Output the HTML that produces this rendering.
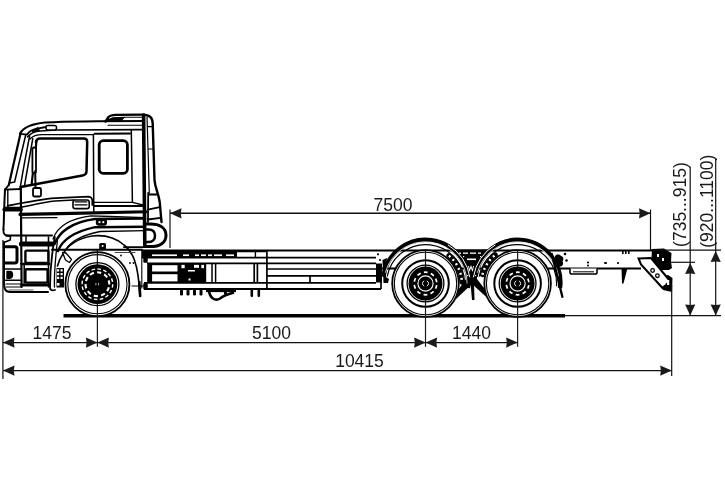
<!DOCTYPE html>
<html><head><meta charset="utf-8">
<style>
html,body{margin:0;padding:0;background:#fff;}
body{width:725px;height:483px;overflow:hidden;}
svg{display:block;will-change:transform;}
text{font-family:"Liberation Sans",sans-serif;font-size:17.5px;fill:#1a1a1a;}
</style></head><body>
<svg width="725" height="483" viewBox="0 0 725 483">
<defs>
<path id="arrL" d="M0 0 L11.5 -5.1 L10.8 0 L11.5 5.1 Z"/>
<path id="arrR" d="M0 0 L-11.5 -5.1 L-10.8 0 L-11.5 5.1 Z"/>
<path id="arrU" d="M0 0 L-5.1 11 L0 10.4 L5.1 11 Z"/>
<path id="arrD" d="M0 0 L-5.1 -11 L0 -10.4 L5.1 -11 Z"/>
<g id="tireF">
  <circle r="32" stroke="#000" stroke-width="1.8" fill="#fff"/>
  <circle r="29.6" stroke="#000" stroke-width="1.1" fill="none"/>
</g>
<g id="hubF">
  <circle r="21.5" stroke="#000" stroke-width="1.3" fill="none"/>
  <circle r="19.9" fill="#000" stroke="none"/>
  <circle r="15.3" stroke="#fff" stroke-width="1.4" fill="none" stroke-dasharray="3.6 2.37"/>
  <circle r="11.9" stroke="#fff" stroke-width="2.1" fill="none" stroke-dasharray="4.2 3.27" transform="rotate(15)"/>
  <path d="M-1.5 -1.2 v2.4 M1.2 -1.2 v2.4" stroke="#fff" stroke-width="0.7"/>
</g>
<g id="tireR">
  <circle r="33.3" stroke="#000" stroke-width="1.8" fill="#fff"/>
  <circle r="31.2" stroke="#000" stroke-width="1.1" fill="none"/>
  <circle r="23.3" stroke="#000" stroke-width="2" fill="none"/>
</g>
<g id="hubR">
  <circle r="18.4" stroke="#000" stroke-width="1.3" fill="none"/>
  <circle r="17" fill="#000" stroke="none"/>
  <circle r="11.3" stroke="#fff" stroke-width="1.7" fill="none" stroke-dasharray="3.8 3.3" transform="rotate(8)"/>
  <circle r="7.6" stroke="#fff" stroke-width="1.1" fill="none"/>
  <path d="M-1.3 -2.6 A2.8 2.8 0 0 0 -1.3 2.6 M1.3 -2.6 A2.8 2.8 0 0 1 1.3 2.6" stroke="#fff" stroke-width="0.9" fill="none"/>
</g>
</defs>

<!-- ground -->
<line x1="63.5" y1="315.7" x2="565" y2="315.7" stroke="#000" stroke-width="3.4"/>

<!-- ===== FRAME ===== -->
<g fill="#000" stroke="none">
  <rect x="142" y="251" width="95" height="6.5"/>
  <rect x="147.2" y="263.3" width="59" height="19.3"/>
  <rect x="143.3" y="255.5" width="4.4" height="7.2" rx="1"/>
  <rect x="143.3" y="283" width="4.4" height="6.5" rx="1"/>
</g>
<g fill="#fff" stroke="none">
  <rect x="152" y="254.4" width="25" height="1.7"/>
  <rect x="183" y="254.4" width="6" height="1.7"/>
  <rect x="195" y="254.4" width="4" height="1.7"/>
  <rect x="201" y="254.4" width="5" height="1.7"/>
  <rect x="208" y="254.4" width="4" height="1.7"/>
  <rect x="214" y="254.4" width="8" height="1.7"/>
  <rect x="226" y="254.4" width="8" height="1.7"/>
  <rect x="152.1" y="265.2" width="25.4" height="6.3"/>
  <rect x="152.1" y="274.2" width="25.4" height="7.2"/>
  <rect x="181.4" y="264.8" width="3.3" height="3.4"/>
  <rect x="194" y="264.8" width="5" height="3"/>
  <rect x="201.3" y="264.8" width="2.7" height="3.4"/>
  <rect x="188" y="270" width="7" height="1.5"/>
  <rect x="188.5" y="278.5" width="2" height="2"/>
</g>
<g id="frame" stroke="#000" fill="none" stroke-width="1.7">
  <line x1="142" y1="250.4" x2="655" y2="250.4" stroke-width="2"/>
  <line x1="376" y1="268.4" x2="641" y2="268.4" stroke-width="2"/>
  <line x1="142" y1="257.6" x2="376" y2="257.6"/>
  <line x1="147" y1="263.3" x2="376" y2="263.3" stroke-width="1.8"/>
  <line x1="267" y1="269" x2="376" y2="269"/>
  <line x1="267" y1="275.8" x2="376" y2="275.8"/>
  <line x1="144" y1="282.8" x2="376" y2="282.8" stroke-width="1.8"/>
  <line x1="144" y1="289" x2="381" y2="289" stroke-width="1.8"/>
  <line x1="310" y1="276" x2="310" y2="282.5"/>
  <line x1="212" y1="263.3" x2="212" y2="282.8" stroke-width="1.5"/>
  <line x1="215.6" y1="263.3" x2="215.6" y2="282.8" stroke-width="1.5"/>
  <line x1="254.2" y1="263.3" x2="254.2" y2="282.8"/>
  <line x1="257.4" y1="263.3" x2="257.4" y2="282.8"/>
  <line x1="266.9" y1="251" x2="266.9" y2="289"/>
  <path d="M237 251.5 L266.9 251.5 M255.4 251.5 L255.4 257.5" stroke-width="1.4"/>
  <line x1="381" y1="282" x2="381" y2="289"/>
</g>
<g fill="#000" stroke="none">
  <rect x="180" y="289.5" width="3" height="6" rx="1.3"/>
  <rect x="186.5" y="289.5" width="3" height="6" rx="1.3"/>
  <rect x="193" y="289.5" width="3" height="6" rx="1.3"/>
  <rect x="199.5" y="289.5" width="3" height="6" rx="1.3"/>
  <rect x="206" y="289.5" width="30" height="2.6"/>
  <path d="M209 291 C210 298 215 301.5 220 298.5 C224 295.5 228 294 234 292.5" fill="none" stroke="#000" stroke-width="2.6"/>
  <rect x="224" y="291" width="3" height="4" rx="1"/>
  <rect x="250.5" y="289.5" width="2.6" height="7.5" rx="1.2"/>
  <rect x="257.5" y="289.5" width="2.6" height="7.5" rx="1.2"/>
</g>

<!-- ===== FENDERS (rear) ===== -->
<g fill="#000" stroke="none">
  <!-- black frame band between axles -->
  <path d="M452 249.5 L492 249.5 C484 256 478 266 476.5 282 L467 282 C465 266 460 256 452 249.5 Z"/>
  <path d="M466 279 L477 279 L491 297 L488.5 299 L472 284 L456 299 L453 297 Z"/>
  <path d="M470.5 283 L474 283 L474.5 300 L472 300 Z"/>
  <!-- left spring bracket -->
  <path d="M376 263.5 L382 263.5 L382 282.5 L376 282.5 Z"/>
  <path d="M382.5 260 L387 258 L385.5 270 L386 277 L389 279 L388 283 L383.5 283 Z"/>
  <circle cx="378" cy="254.3" r="1.1"/><circle cx="380" cy="260" r="1.1"/>
  <!-- right bracket behind fender 2 -->
  <path d="M555 256.5 C556 254 559.5 254 561 256 C563.5 256.5 564 259.5 562.5 261.5 C564 263.5 562.5 267 559.5 266.5 C557 268 554.5 266 555.5 263.5 C553.5 261.5 553.5 258 555 256.5 Z"/>
</g>
<g stroke="#000" fill="none" stroke-linecap="round">
  <path d="M448.9 255.7A36.3 36.3 0 0 1 461.9 282.2" stroke-width="5"/>
  <path d="M482.4 274.7A36.3 36.3 0 0 1 495.3 254.9" stroke-width="5"/>
</g>
<g stroke="#fff" fill="none" stroke-width="2.4" stroke-dasharray="2 3.2">
  <path d="M448.9 255.7A36.3 36.3 0 0 1 461.9 282.2"/>
  <path d="M482.4 274.7A36.3 36.3 0 0 1 495.3 254.9"/>
</g>
<g stroke="#000" fill="none">
  <path d="M383.4 276.8A42.6 42.6 0 0 1 467.9 288.0" stroke-width="4.4"/>
  <path d="M387.2 276.7A39 39 0 0 1 464.5 286.2" stroke-width="1.2"/>
  <path d="M475.5 276.8A42.6 42.6 0 0 1 560.0 288.0" stroke-width="4.4"/>
  <path d="M479.2 276.7A39 39 0 0 1 556.5 286.2" stroke-width="1.2"/>
  <path d="M385.3 272.7A41.6 41.6 0 0 1 467.1 283.5" stroke="#fff" stroke-width="0.8"/>
  <path d="M477.4 272.7A41.6 41.6 0 0 1 558.6 276.3" stroke="#fff" stroke-width="0.8"/>
  <path d="M551.5 253 L562.6 297.8" stroke-width="2.3"/>
</g>
<g stroke="#fff" fill="none" stroke-width="1">
  <path d="M447.9 244.9A44.6 44.6 0 0 1 469.8 277.3"/>
  <path d="M473.4 277.3A44.6 44.6 0 0 1 495.3 244.9"/>
</g>
<g fill="#fff" stroke="none">
  <rect x="459" y="252.5" width="2" height="1.3"/><rect x="463" y="252.5" width="5" height="1.3"/><rect x="470" y="252.5" width="6" height="1.3"/><rect x="478" y="252.5" width="3" height="1.3"/>
  <rect x="467" y="258.5" width="9" height="1.6"/>
  <rect x="463" y="256" width="1.2" height="1.2"/><rect x="480" y="256" width="1.2" height="1.2"/>
  <path d="M468 266 L469.5 272 L471 268 L472.5 272 L474 266 L473 266 L472.5 269 L471 265 L469.5 269 L469 266 Z"/>
  <rect x="467" y="275" width="1.2" height="1.2"/><rect x="475" y="275" width="1.2" height="1.2"/>
</g>
<!-- rear overhang -->
<g stroke="#000" fill="none" stroke-width="1.6">
  <path d="M570 268.5 L570 272.5 Q570 274 572 274 L595 274 Q597 274 597 272.5 L597 268.5" fill="#fff"/>
  <path d="M573 271.8 L594 271.8" stroke-width="1"/>
</g>
<g fill="#000" stroke="none">
  <path d="M621.5 268 L627.5 268 L623.5 283.5 L622 283.5 Z"/>
  <circle cx="565" cy="254" r="1.3"/><circle cx="566.5" cy="260.5" r="1.3"/>
  <circle cx="588" cy="262.5" r="1.1"/><circle cx="606" cy="263" r="1.1"/>
  <circle cx="588" cy="265.6" r="1"/>
  <rect x="622" y="251" width="1.6" height="3"/><rect x="625" y="251" width="1.6" height="3"/><rect x="628" y="251" width="1.6" height="3"/>
  <circle cx="605" cy="263" r="1"/>
  <circle cx="618" cy="263" r="1.1"/>
  <!-- hook blob -->
  <path d="M652 249 L664 248.5 L668 251 L671.5 253 L671 262 L672 268 L669 270 L660 270 L655 266 L651.5 258 Z"/>
  <path d="M660 277 L668 275 L672.5 278 L672 292 L663 290 Z"/>
</g>
<g stroke="#000" stroke-width="2" fill="#fff">
  <path d="M638.5 258.5 L651 258 L670 281 L662.5 288 L641 264.5 Z"/>
</g>
<g fill="none" stroke="#000" stroke-width="1.3">
  <circle cx="652.6" cy="270.5" r="1.8"/><circle cx="657.4" cy="275.7" r="1.8"/>
</g>
<g fill="#fff" stroke="none">
  <rect x="663" y="280" width="2.2" height="5"/><rect x="667" y="280" width="2.2" height="5"/>
  <rect x="657" y="254" width="2" height="3"/><rect x="662" y="258" width="2" height="3"/>
</g>

<!-- wheels -->
<use href="#tireF" x="97.4" y="284.2"/>
<use href="#tireR" x="425.5" y="283.5"/>
<use href="#tireR" x="517.6" y="283.5"/>
<g stroke="#1a1a1a" stroke-width="1.2">
  <line x1="97.4" y1="249" x2="97.4" y2="346.8"/>
  <line x1="425.5" y1="250" x2="425.5" y2="346.8"/>
  <line x1="517.6" y1="250" x2="517.6" y2="346.8"/>
</g>
<use href="#hubF" x="97.4" y="284.2"/>
<use href="#hubR" x="425.5" y="283.5"/>
<use href="#hubR" x="517.6" y="283.5"/>

<!-- ===== CAB ===== -->
<g id="cab" stroke="#000" fill="none" stroke-width="1.6" stroke-linejoin="round" stroke-linecap="round">
  <!-- roof -->
  <path d="M20 133.5 C23 128 30 124 45 122.5 C65 121.5 95 121 143 121" stroke-width="2.2"/>
  <path d="M105.5 121.5 L108.5 117 C110 115.5 112 115 116 114.9 L143 114.6 C149.5 114.6 152.7 117.5 152.7 123.5 L154.5 180 C155 188 158.5 193 159.7 202 L161.5 222" stroke-width="2.4"/>
  <path d="M107 120.2 L113 117.8 L124 117.3 L121 120.3 Z" fill="#000" stroke-width="1.2"/>
  <path d="M121 120.3 L124 117.3 L142 117.3" stroke-width="1.1"/>
  <path d="M20 133.8 L27 134.6 C29 131.5 32 129.5 37 128.6 L46 127" stroke-width="1.8"/>
  <path d="M32 130.5 L38 127.5 L39.5 130.6 L33.5 132 Z" fill="#000" stroke-width="1"/>
  <path d="M27.5 136.8 C31 133 35 131.2 40 131 L56.5 130 L143 129.6" stroke-width="1.6"/>
  <rect x="46" y="125.5" width="10.5" height="4.4" rx="2" stroke-width="1.5" fill="#fff"/>
  <path d="M30 139 C33 136 36 134.7 42 134.7 L93 134.7" stroke-width="1.3"/>
  <path d="M94.7 133.7 L130 133.5" stroke-width="2"/>
  <path d="M108 125.2 L143 125.2" stroke-width="1.1"/>
  
  <!-- A pillar -->
  <path d="M20.5 133.5 L8.8 185" stroke-width="2.2"/>
  <path d="M25.8 134.5 L14.6 182 L9.5 183" stroke-width="1.5"/>
  <path d="M29.6 136 C27 150 23 170 20.4 186.6" stroke-width="1.5"/>
  <path d="M32.8 138.5 L24.3 186.6" stroke-width="1.5"/>
  <path d="M5 189.6 L8.8 185" stroke-width="1.8"/>
  <!-- window 1 -->
  <path d="M36 142 Q36.5 138.5 40 138.5 L84 138.5 Q87.2 138.5 87.2 142 L86.5 171.5 Q86.3 175 82.5 175.5 L20.5 187" stroke-width="2.5"/>
  <path d="M36.4 141 C35.5 155 33 170 31.7 184" stroke-width="2.2"/>
  <rect x="32.4" y="147.5" width="3.6" height="25.5" rx="1.8" stroke-width="1.8" fill="#fff"/>
  <path d="M35.2 171 L35.5 188" stroke-width="2"/>
  <rect x="33" y="188" width="8" height="8.5" rx="1.5" stroke-width="1.8" fill="#fff"/>
  <!-- window 2 -->
  <rect x="99.2" y="140.7" width="28.2" height="32.6" rx="4" stroke-width="2.8"/>
  <!-- door / panels -->
  <path d="M93.4 134.5 L93.8 211.5" stroke-width="1.5"/>
  <path d="M131.3 130 L132.4 202.2" stroke-width="1.5"/>
  <path d="M94 202.4 L132.4 202.4 L143 205" stroke-width="1.4"/>
  <path d="M94 206 L145 206" stroke-width="2"/>
  <path d="M143.6 115 L144.8 246" stroke-width="3.6"/>
  <path d="M147 116 L149.3 193" stroke-width="1.2"/>
  <path d="M148 126.7 L152.3 126.7 M148.5 149 L153 149" stroke-width="1.2"/>
  <!-- intake + hook -->
  <path d="M148.5 194.5 L157.5 194.5 M147.8 209.7 L159.8 207.2 M147.8 219.5 L160.8 217.8 M148.2 193 L148 222" stroke-width="1.8"/>
  <path d="M146 224 L150 224 C160 224 166 228 166 235.3 C166 242.5 160 246.6 150 246.6 L146 246.6" stroke-width="3"/>
  <path d="M146 229.5 L148.5 229.5 C153 229.5 155 232 155 235.8 C155 239 153 242 148.5 242 L146 242" stroke-width="2.5"/>
  <!-- side character lines -->
  <path d="M7.5 205.8 C25 202.5 40 199.5 55 198.2 L88.5 196.6 C91 196.8 92.3 198.5 92.3 201 L92.3 205" stroke-width="1.7"/>
  <path d="M21 207.2 C35 204.5 45 202.3 55 201.1 L74 200" stroke-width="1.5"/>
  <rect x="73" y="200" width="16.2" height="8.6" rx="2.2" stroke-width="1.6"/>
  <path d="M75 201.8 L87 201.8 M75 204.9 L87 204.9" stroke-width="1.2"/>
  <path d="M5 208.5 L20 208.5" stroke-width="3.5"/>
  <path d="M20 214.4 L60 213.6 L146 211.7" stroke-width="3.1"/>
  <path d="M21 217.9 L57 217.6" stroke-width="1.2"/>
  <!-- arch lines -->
  <path d="M53 239 C57 227 70 218.5 91 215.8 L110 216.5 L145 217.6" stroke-width="1.3"/>
  <path d="M54.6 244 C59 232 72 222 95 219 L145 218.5" stroke-width="2.4"/>
  <path d="M58 251.2 C62 240 73 232 95 227.2 L145 226.7" stroke-width="2.4"/>
  <path d="M63 254.5 C67 244 78 236 100 231.5 L145 230.6" stroke-width="1.3"/>
  <path d="M57.5 266 C62 250 74 239 92 236 C106 234.5 116 238 124 245 C132 251 138.5 262 139.8 296" stroke-width="1.6"/>
  <path d="M139.3 282 L140.2 296" stroke-width="2.6"/>
  <path d="M141.8 250 L141.8 288" stroke-width="1.1"/>
  <path d="M132 286 L147 286" stroke-width="1.2"/>
  <path d="M115 252.5 L135 252.5" stroke-width="1" stroke="#444"/>
  <circle cx="121" cy="255.5" r="0.9" fill="#000" stroke="none"/><circle cx="130" cy="263" r="0.9" fill="#000" stroke="none"/><circle cx="133.5" cy="263" r="0.9" fill="#000" stroke="none"/>
  <path d="M54.8 237 C51 258 50 275 50 287.5 C50 290 52 291 55 290" stroke-width="1.8"/>
  <path d="M57.5 240 C55 262 54 275 54.5 287" stroke-width="1.3"/>
  <path d="M124 247.2 L145 247.2" stroke-width="1.8"/>
  <!-- marker knobs -->
  <rect x="95.8" y="218.4" width="11.2" height="7.4" rx="3" fill="#000" stroke="none"/>
  <circle cx="99.5" cy="222.2" r="1.1" fill="#fff" stroke="none"/><circle cx="103.3" cy="222.2" r="1.1" fill="#fff" stroke="none"/>
  <rect x="99.2" y="243" width="6.8" height="7" rx="1.5" fill="#000" stroke="none"/>
  <circle cx="102.6" cy="246" r="1" fill="#fff" stroke="none"/>
  <!-- front face -->
  <path d="M5 189.6 L21 189" stroke-width="1.8"/>
  <path d="M5 189.6 C4.5 200 4 212 3.8 222 L3.4 229.5" stroke-width="2"/>
  <path d="M3.6 229.5 C3 232 4 235.5 7 235.5" stroke-width="1.8"/>
  <path d="M7.8 190 L7.8 208" stroke-width="1.4"/>
  <path d="M4.3 209.6 L21 209.6" stroke-width="3.8"/>
  <path d="M20.8 187 L21.6 287" stroke-width="2.2"/>
  <path d="M6 235.5 L52 235.5" stroke-width="2"/>
  <path d="M7 235.8 L10.5 236.5 L10.2 240 L4.5 242.3" stroke-width="1.6"/>
  <path d="M4 242 L4 284 C4 289 6 292 10 292 L48 292" stroke-width="2"/>
  <path d="M4.3 246.8 L15 246.8 Q17 246.8 17 249 L17 260.5 Q17 263 15 263 L4.5 263" stroke-width="3"/>
  <path d="M4.2 269 L21 269" stroke-width="1.6"/>
  <path d="M7 271.5 L10 271.5 Q12.5 271.5 12.5 274.8 Q12.5 278.2 10 278.2 L7 278.2 Z" fill="#000" stroke-width="1.4"/>
  <path d="M5.5 280.2 L21 280.2" stroke-width="1.5"/>
  <path d="M6 284 L21 284 M6 287 L21 287" stroke-width="1.2"/>
  <path d="M9 290 L33 290" stroke-width="1" stroke="#555"/>
  <!-- steps -->
  <path d="M26 235.5 L26 241.6" stroke-width="1.5"/>
  <path d="M21.4 244.1 L52 244.1" stroke-width="5"/>
  <rect x="25.4" y="250.6" width="23" height="12.4" rx="1" stroke-width="2.4"/>
  <path d="M21.4 264 L49 264" stroke-width="2.6"/>
  <path d="M24.2 265.5 L24.2 283" stroke-width="1.6"/>
  <rect x="25.4" y="269.2" width="22.2" height="13.4" rx="1" stroke-width="2.4"/>
  <path d="M21.6 285 L48.5 285" stroke-width="3"/>
  <path d="M52 249.8 L142 249.8" stroke-width="2"/>
  <path d="M56.5 268 L64 268 L64 287.5 L56.5 287.5 Z" fill="#000" stroke="none"/>
  <rect x="57" y="283" width="2.5" height="2.6" fill="#fff" stroke="none"/>
  <path d="M57 269.2 h2.2 v2.2 h-2.2 Z M60.5 269.2 h2.2 v2.2 h-2.2 Z M57 273 h2.2 v2.2 h-2.2 Z M60.5 273 h2.2 v2.2 h-2.2 Z M57 276.8 h2.2 v2.2 h-2.2 Z M60.5 276.8 h2.2 v2.2 h-2.2 Z" fill="#fff" stroke="none"/>
  <path d="M62.5 252.5 L66 253 L71.5 259.5 L69.5 262.5 L65.5 260 Z" fill="#fff" stroke-width="1.3"/>
  <path d="M48.5 237 L48.5 287" stroke-width="1.6"/>
</g>

<!-- ===== DIMENSIONS ===== -->
<g stroke="#111" stroke-width="1.2" fill="none">
  <line x1="2.9" y1="240" x2="2.9" y2="379"/>
  <line x1="671.7" y1="285" x2="671.7" y2="376"/>
  <line x1="170" y1="209.5" x2="170" y2="248"/>
  <line x1="650.5" y1="209.5" x2="650.5" y2="250"/>
  <line x1="170" y1="213.3" x2="650.5" y2="213.3" stroke-width="1.4"/>
  <line x1="3" y1="342.6" x2="517.6" y2="342.6"/>
  <line x1="3" y1="370.6" x2="671.7" y2="370.6"/>
  <line x1="650" y1="250.2" x2="721" y2="250.2"/>
  <line x1="671" y1="262.3" x2="695" y2="262.3"/>
  <line x1="565" y1="315.6" x2="721" y2="315.6"/>
  <line x1="690.2" y1="166.5" x2="690.2" y2="315"/>
  <line x1="715.7" y1="158.5" x2="715.7" y2="315"/>
</g>
<g fill="#1a1a1a">
  <use href="#arrL" x="170" y="213.3"/>
  <use href="#arrR" x="650.5" y="213.3"/>
  <use href="#arrL" x="3" y="342.6"/>
  <use href="#arrR" x="97.4" y="342.6"/>
  <use href="#arrL" x="97.4" y="342.6"/>
  <use href="#arrR" x="425.6" y="342.6"/>
  <use href="#arrL" x="425.6" y="342.6"/>
  <use href="#arrR" x="517.6" y="342.6"/>
  <use href="#arrL" x="3" y="370.6"/>
  <use href="#arrR" x="671.7" y="370.6"/>
  <use href="#arrU" x="690.2" y="263"/>
  <use href="#arrD" x="690.2" y="315.5"/>
  <use href="#arrU" x="715.7" y="251"/>
  <use href="#arrD" x="715.7" y="315.5"/>
</g>
<text x="393" y="210.5" text-anchor="middle">7500</text>
<text x="52" y="339" text-anchor="middle">1475</text>
<text x="271.5" y="339" text-anchor="middle">5100</text>
<text x="471.5" y="339" text-anchor="middle">1440</text>
<text x="359.5" y="367" text-anchor="middle">10415</text>
<text transform="translate(685.6,204.6) rotate(-90)" text-anchor="middle">(735...915)</text>
<text transform="translate(712.9,201.2) rotate(-90)" text-anchor="middle">(920...1100)</text>
</svg>
</body></html>
